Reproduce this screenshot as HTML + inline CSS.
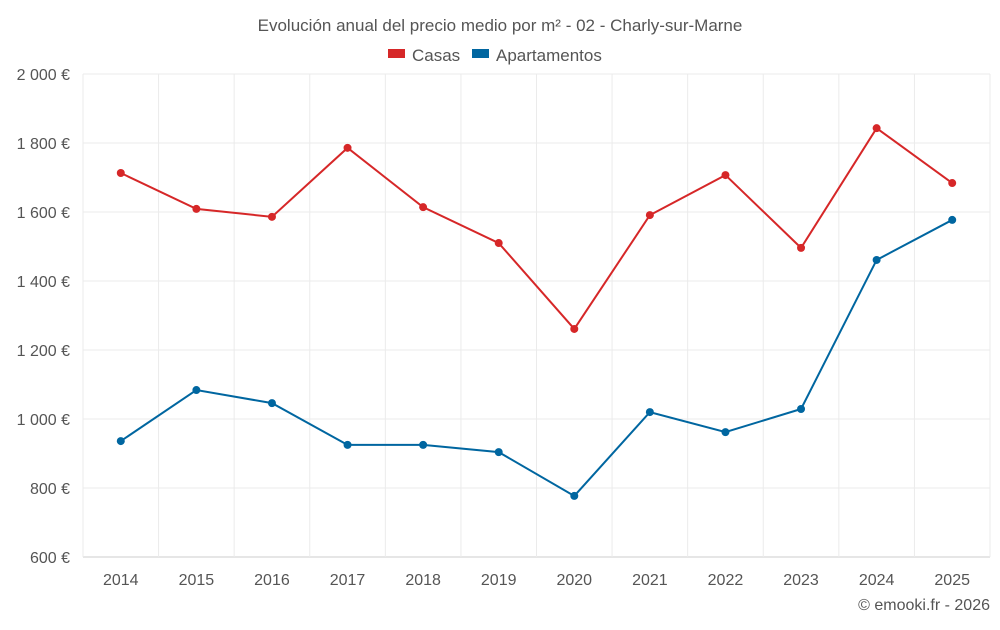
<!DOCTYPE html>
<html><head><meta charset="utf-8"><style>
body{margin:0;background:#fff;font-family:"Liberation Sans",sans-serif;}
svg text{font-family:"Liberation Sans",sans-serif;fill:#555;}
</style></head><body>
<svg id="chart" width="1000" height="625" xmlns="http://www.w3.org/2000/svg">
<text x="500" y="31" text-anchor="middle" font-size="17">Evolución anual del precio medio por m² - 02 - Charly-sur-Marne</text>
<g>
<g><rect x="388" y="49" width="17" height="9" fill="#d62728"/><text x="412" y="61" font-size="17">Casas</text></g>
<g><rect x="472" y="49" width="17" height="9" fill="#0066a0"/><text x="496" y="61" font-size="17">Apartamentos</text></g>
</g>
<g id="grid"></g><g id="axes"></g><g id="series"></g>
<text x="990" y="610" text-anchor="end" font-size="16">© emooki.fr - 2026</text>
</svg>
<script>
const years=["2014","2015","2016","2017","2018","2019","2020","2021","2022","2023","2024","2025"];
const casas=[1713,1609,1586,1786,1614,1510,1261,1591,1707,1496,1843,1684];
const apartamentos=[936,1084,1046,925,925,904,777,1020,962,1029,1461,1577];
const yTicks=[600,800,1000,1200,1400,1600,1800,2000];
const yTickLabels=["600 €","800 €","1 000 €","1 200 €","1 400 €","1 600 €","1 800 €","2 000 €"];
const L=83,R=990,T=74,B=557,yMin=600,yMax=2000;
const step=(R-L)/years.length;
const xs=i=>L+step*(i+0.5);
const ys=v=>B-(v-yMin)/(yMax-yMin)*(B-T);
const NS="http://www.w3.org/2000/svg";
function mk(tag,attrs,parent){const e=document.createElementNS(NS,tag);for(const k in attrs)e.setAttribute(k,attrs[k]);parent.appendChild(e);return e;}
const grid=document.getElementById('grid'),axes=document.getElementById('axes'),series=document.getElementById('series');
yTicks.forEach((t,i)=>{
 const l=mk('line',{x1:L,x2:R,y1:ys(t),y2:ys(t),stroke:t===yMin?'#ccc':'#ebebeb'},grid);
 
 
 const tx=mk('text',{x:L-13,y:ys(t)+6,'text-anchor':'end','font-size':16},axes);
 tx.textContent=yTickLabels[i];
 
 
});
for(let i=0;i<=years.length;i++){
 const l=mk('line',{x1:L+step*i,x2:L+step*i,y1:T,y2:B,stroke:'#ebebeb'},grid);
 
 
}
years.forEach((y,i)=>{
 const tx=mk('text',{x:xs(i),y:585,'text-anchor':'middle','font-size':16},axes);
 tx.textContent=y;
 
 
});
function draw(vals,color,name){
 const p=mk('polyline',{points:vals.map((v,i)=>xs(i)+','+ys(v)).join(' '),fill:'none',stroke:color,'stroke-width':2},series);
 
 
 vals.forEach((v,i)=>{
  const c=mk('circle',{cx:xs(i),cy:ys(v),r:4,fill:color},series);
  
  
 });
}
draw(casas,'#d62728','casas');
draw(apartamentos,'#0066a0','apartamentos');
</script>
</body></html>
